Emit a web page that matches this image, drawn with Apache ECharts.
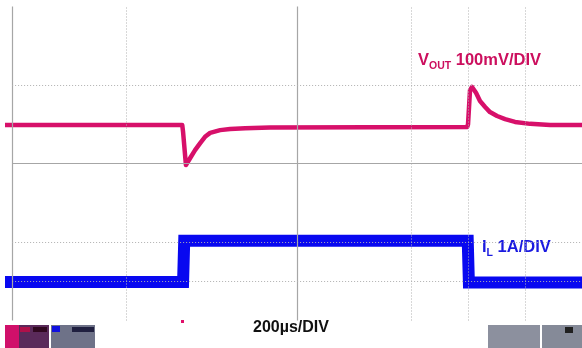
<!DOCTYPE html>
<html>
<head>
<meta charset="utf-8">
<script src="https://cdn.jsdelivr.net/npm/echarts@6/dist/echarts.min.js"></script>
<style>
html,body{margin:0;padding:0;background:#fff;}
#c{width:582px;height:348px;}
</style>
</head>
<body>
<div id="c"></div>
<script>
// time in microseconds (200 µs/div), amplitude in screen divisions
const voutTime = [-25, 597, 600, 610, 625, 642, 660, 677, 695, 730, 765, 818, 905, 1597, 1600, 1607, 1614, 1628, 1642, 1660, 1677, 1702, 1730, 1765, 1818, 1888, 2000];
const voutDiv  = [0.98, 0.98, 0.80, -0.04, 0.14, 0.34, 0.52, 0.68, 0.78, 0.85, 0.88, 0.90, 0.92, 0.93, 1.00, 1.87, 1.95, 1.80, 1.59, 1.44, 1.31, 1.21, 1.13, 1.06, 1.01, 0.98, 0.98];
const ilTime = [-25, 600, 604, 1599, 1603, 2000];
const ilDiv  = [-3.02, -3.02, -1.97, -1.97, -3.03, -3.03];
const vGridSolid = [0, 1000];
const vGridDotted = [400, 1400, 1600, 1800];
const hGridSolid = [0];
const hGridDotted = [2, -2, -3];
const timeLabel = '200µs/DIV';

const chart = echarts.init(document.getElementById('c'), null, {renderer: 'canvas'});

const solidStyle = {color: '#a6a6a6', width: 1.2, type: 'solid'};
const dotStyle = {color: '#b0b0b0', width: 1, type: [1, 2]};
const markData = [];
vGridSolid.forEach(v => markData.push({xAxis: v, lineStyle: solidStyle}));
vGridDotted.forEach(v => markData.push({xAxis: v, lineStyle: dotStyle}));
hGridSolid.forEach(v => markData.push([{coord: [0, v], lineStyle: solidStyle}, {coord: [2000, v]}]));
hGridDotted.forEach(v => markData.push([{coord: [0, v], lineStyle: dotStyle}, {coord: [2000, v]}]));

const FONT = '"Liberation Sans", Arial, sans-serif';

chart.setOption({
  animation: false,
  backgroundColor: '#fff',
  grid: {left: 5, right: 0, top: 6.5, bottom: 27.5, containLabel: false},
  xAxis: {type: 'value', min: -25, max: 2000, show: false},
  yAxis: {type: 'value', min: -4, max: 4, show: false},
  series: [
    {
      type: 'line', data: [], silent: true,
      markLine: {silent: true, symbol: 'none', label: {show: false}, animation: false, data: markData}
    },
    {
      name: 'IL', type: 'line', showSymbol: false, symbol: 'none', silent: true,
      data: ilTime.map((t, i) => [t, ilDiv[i]]),
      lineStyle: {color: '#0808f0', width: 12, join: 'miter', cap: 'butt'}
    },
    {
      name: 'VOUT', type: 'line', showSymbol: false, symbol: 'none', smooth: false, silent: true,
      data: voutTime.map((t, i) => [t, voutDiv[i]]),
      lineStyle: {color: '#d7106a', width: 4.5, join: 'round'}
    }
  ],
  graphic: [
    {type: 'rect', shape: {x: 5, y: 325, width: 44, height: 23}, style: {fill: '#5a2a5a'}},
    {type: 'rect', shape: {x: 5, y: 325, width: 14, height: 23}, style: {fill: '#d0106a'}},
    {type: 'rect', shape: {x: 20, y: 327, width: 10, height: 5}, style: {fill: '#b0104a'}},
    {type: 'rect', shape: {x: 33, y: 327, width: 14, height: 5}, style: {fill: '#300820'}},
    {type: 'rect', shape: {x: 51, y: 325, width: 44, height: 23}, style: {fill: '#6e7288'}},
    {type: 'rect', shape: {x: 52, y: 326, width: 8, height: 6}, style: {fill: '#1010e0'}},
    {type: 'rect', shape: {x: 72, y: 327, width: 22, height: 5}, style: {fill: '#202040'}},
    {type: 'rect', shape: {x: 488, y: 325, width: 52, height: 23}, style: {fill: '#8c909e'}},
    {type: 'rect', shape: {x: 542, y: 325, width: 40, height: 23}, style: {fill: '#858a98'}},
    {type: 'rect', shape: {x: 565, y: 327, width: 8, height: 6}, style: {fill: '#202020'}},
    {type: 'rect', shape: {x: 181, y: 320, width: 3, height: 3}, style: {fill: '#e0106a'}},
    {type: 'text', x: 418, y: 69, style: {
      text: '{v|V}{s|OUT}{n| 100mV/DIV}', textVerticalAlign: 'bottom', fill: '#cc0f5e',
      rich: {
        v: {fontFamily: FONT, fontWeight: 'bold', fontSize: 16.5, fill: '#cc0f5e', verticalAlign: 'bottom'},
        s: {fontFamily: FONT, fontWeight: 'bold', fontSize: 10.5, fill: '#cc0f5e', verticalAlign: 'bottom', padding: [0, 0, -3, 0]},
        n: {fontFamily: FONT, fontWeight: 'bold', fontSize: 16.5, fill: '#cc0f5e', verticalAlign: 'bottom'}
      }
    }},
    {type: 'text', x: 482, y: 256, style: {
      text: '{v|I}{s|L}{n| 1A/DIV}', textVerticalAlign: 'bottom', fill: '#1a1ae0',
      rich: {
        v: {fontFamily: FONT, fontWeight: 'bold', fontSize: 16.5, fill: '#1a1ae0', verticalAlign: 'bottom'},
        s: {fontFamily: FONT, fontWeight: 'bold', fontSize: 10.5, fill: '#1a1ae0', verticalAlign: 'bottom', padding: [0, 0, -3, 0]},
        n: {fontFamily: FONT, fontWeight: 'bold', fontSize: 16.5, fill: '#1a1ae0', verticalAlign: 'bottom'}
      }
    }},
    {type: 'text', x: 291, y: 336, style: {
      text: timeLabel, textAlign: 'center', textVerticalAlign: 'bottom',
      fontFamily: FONT, fontWeight: 'bold', fontSize: 16, fill: '#111'
    }}
  ]
});
</script>
</body>
</html>
